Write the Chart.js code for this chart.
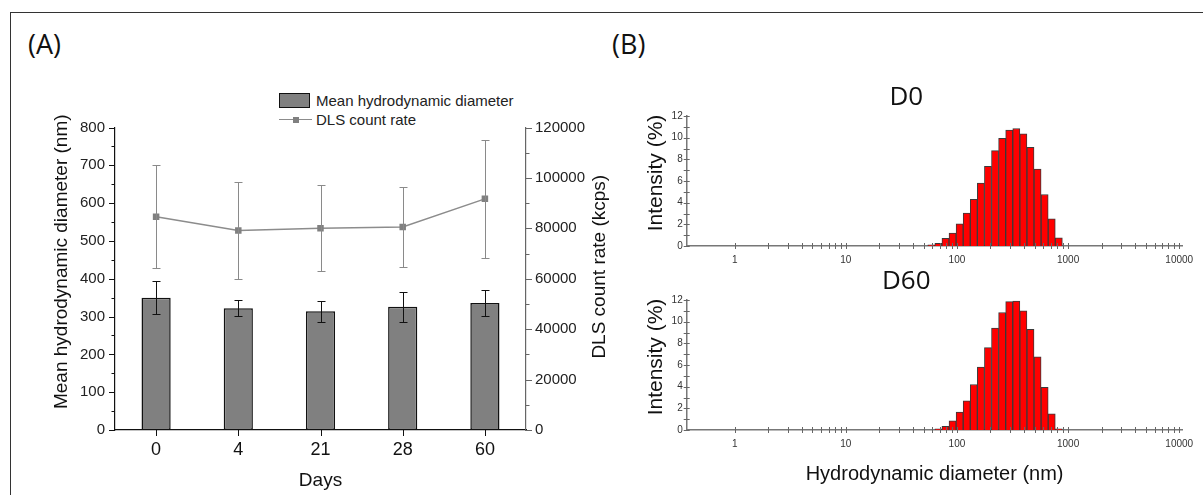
<!DOCTYPE html>
<html lang="en">
<head>
<meta charset="UTF-8">
<title>DLS stability</title>
<script src="https://cdn.jsdelivr.net/npm/chart.js"></script>
<style>
  html, body { margin: 0; padding: 0; background: #fff; }
  body { width: 1203px; height: 495px; position: relative; overflow: hidden; font-family: "Liberation Sans", Arial, sans-serif; }
  .frame { position: absolute; left: 10px; top: 12px; width: 1300px; height: 600px; border-left: 1.5px solid #333; border-top: 1.5px solid #333; }
  .panel { position: absolute; font-family: "Open Sans", sans-serif; font-size: 27px; line-height: 27px; color: #111; }
  canvas { position: absolute; }
  .legend { position: absolute; font-size: 15px; color: #222; }
  .legend .row { position: absolute; left: 0; white-space: nowrap; height: 18px; }
  .legend .sw { position: absolute; left: 0; }
  .legend .txt { position: absolute; left: 37px; top: 0; line-height: 18px; }
</style>
</head>
<body>
<div class="frame"></div>
<div class="panel" style="left:28px; top:30px;">(A)</div>
<div class="panel" style="left:612px; top:30px;">(B)</div>

<div class="legend" id="legendA" style="left:279px; top:92px;"></div>

<canvas id="chartA" width="610" height="415" style="left:20px; top:80px;"></canvas>
<canvas id="chartD0" width="572" height="190" style="left:630px; top:80px;"></canvas>
<canvas id="chartD60" width="572" height="231" style="left:630px; top:264px;"></canvas>

<script>
// ---- panel A : stability over time ----
const days = ['0', '4', '21', '28', '60'];
const meanDiameter = [350, 322, 314, 326, 336];
const meanDiameterSd = [43, 21, 28, 40, 34];
const countRate = [84600, 79100, 80000, 80500, 91700];
const countRateSd = [20500, 19300, 17100, 15800, 23400];
const seriesNames = ['Mean hydrodynamic diameter', 'DLS count rate'];
const diameterTicks = [0, 100, 200, 300, 400, 500, 600, 700, 800];
const countTicks = [0, 20000, 40000, 60000, 80000, 100000, 120000];

// ---- panel B : size distributions (intensity %) ----
const sizeBins = [58.77, 68.06, 78.82, 91.28, 105.7, 122.4, 141.8, 164.2, 190.1, 220.2,
                  255.0, 295.3, 342.0, 396.1, 458.7, 531.2, 615.1, 712.4, 825.0];
const intensityD0 = [0.1, 0.25, 0.7, 1.2, 2.05, 3.05, 4.3, 5.8, 7.35, 8.8,
                     9.95, 10.7, 10.85, 10.35, 9.1, 7.1, 4.75, 2.5, 0.75];
const intensityD60 = [0, 0.1, 0.35, 0.85, 1.65, 2.7, 4.2, 5.8, 7.6, 9.4,
                      10.85, 11.85, 11.9, 11.0, 9.3, 6.75, 3.95, 1.5, 0.1];
const sizeTickLabels = [1, 10, 100, 1000, 10000];
const intensityTicks = [0, 2, 4, 6, 8, 10, 12];

Chart.defaults.font.family = '"Liberation Sans", Arial, sans-serif';
Chart.defaults.color = '#222';

// tick marks drawn against the axis lines (outward / crossing)
function tickMarks(marks) {
    return {
        id: 'tickMarks',
        afterDraw(chart) {
            const ctx = chart.ctx;
            const area = chart.chartArea;
            marks.forEach(m => {
                const scale = chart.scales[m.axis];
                ctx.save();
                ctx.strokeStyle = m.color;
                ctx.lineWidth = 1;
                ctx.beginPath();
                m.values.forEach(v => {
                    const p = Math.round(scale.getPixelForValue(v)) + 0.5;
                    if (scale.isHorizontal()) {
                        ctx.moveTo(p, area.bottom - m.inside);
                        ctx.lineTo(p, area.bottom + m.outside);
                    } else if (scale.position === 'left') {
                        ctx.moveTo(area.left - m.outside, p);
                        ctx.lineTo(area.left + m.inside, p);
                    } else {
                        ctx.moveTo(area.right + m.outside, p);
                        ctx.lineTo(area.right - m.inside, p);
                    }
                });
                ctx.stroke();
                ctx.restore();
            });
        }
    };
}

// vertical axis titles (bottom-to-top text)
function sideTitles(items) {
    return {
        id: 'sideTitles',
        afterDraw(chart) {
            const ctx = chart.ctx;
            const area = chart.chartArea;
            items.forEach(t => {
                ctx.save();
                ctx.translate(t.x, (area.top + area.bottom) / 2 + t.dy);
                ctx.rotate(-Math.PI / 2);
                ctx.font = t.font;
                ctx.fillStyle = '#111';
                ctx.textAlign = 'center';
                ctx.textBaseline = 'middle';
                ctx.fillText(t.text, 0, 0);
                ctx.restore();
            });
        }
    };
}

// error bars from dataset.errors
const errorBars = {
    id: 'errorBars',
    afterDatasetsDraw(chart) {
        const ctx = chart.ctx;
        chart.data.datasets.forEach((ds, i) => {
            if (!ds.errors) return;
            const meta = chart.getDatasetMeta(i);
            const yScale = chart.scales[meta.yAxisID];
            ctx.save();
            ctx.strokeStyle = ds.errorColor;
            ctx.lineWidth = 1;
            meta.data.forEach((el, j) => {
                const x = Math.round(el.x) + 0.5;
                const top = Math.round(yScale.getPixelForValue(ds.data[j] + ds.errors[j])) + 0.5;
                const bot = Math.round(yScale.getPixelForValue(ds.data[j] - ds.errors[j])) + 0.5;
                ctx.beginPath();
                ctx.moveTo(x, top); ctx.lineTo(x, bot);
                ctx.moveTo(x - 4, top); ctx.lineTo(x + 4, top);
                ctx.moveTo(x - 4, bot); ctx.lineTo(x + 4, bot);
                ctx.stroke();
            });
            ctx.restore();
        });
    }
};

function range(a, b, step) {
    const out = [];
    for (let v = a; v <= b; v += step) out.push(v);
    return out;
}

// legend for panel A (HTML, built from the series names)
const legendA = document.getElementById('legendA');
legendA.innerHTML =
    '<div class="row" style="top:0"><div class="sw" style="top:1px;width:31px;height:15px;background:#808080;border:1.5px solid #111;box-sizing:border-box;"></div><div class="txt">' + seriesNames[0] + '</div></div>' +
    '<div class="row" style="top:19px"><div class="sw" style="top:8px;width:33px;height:0;border-top:1.5px solid #8c8c8c;"></div>' +
    '<div class="sw" style="top:5.5px;left:13.5px;width:6px;height:6px;background:#808080;"></div><div class="txt">' + seriesNames[1] + '</div></div>';

new Chart(document.getElementById('chartA'), {
    data: {
        labels: days,
        datasets: [{
            type: 'line',
            label: seriesNames[1],
            data: countRate,
            errors: countRateSd,
            errorColor: '#8a8a8a',
            yAxisID: 'y1',
            order: 0,
            borderColor: '#8c8c8c',
            borderWidth: 1.5,
            pointStyle: 'rect',
            pointRadius: 4.6,
            pointBackgroundColor: '#808080',
            pointBorderColor: '#808080',
            pointBorderWidth: 0,
            tension: 0
        }, {
            type: 'bar',
            label: seriesNames[0],
            data: meanDiameter,
            errors: meanDiameterSd,
            errorColor: '#111',
            yAxisID: 'y',
            order: 1,
            backgroundColor: '#808080',
            borderColor: '#111',
            borderWidth: 1.5,
            borderSkipped: false,
            categoryPercentage: 1,
            barPercentage: 0.355
        }]
    },
    options: {
        responsive: false,
        animation: false,
        layout: { padding: { top: 47.5, left: 0, right: 0, bottom: 0 } },
        plugins: { legend: { display: false }, tooltip: { enabled: false } },
        scales: {
            x: {
                type: 'category',
                offset: true,
                grid: { display: false, drawTicks: false, offset: true },
                border: { display: true, color: '#111', width: 1.2 },
                ticks: { font: { size: 18 }, color: '#111', padding: 9 },
                title: { display: true, text: 'Days', font: { size: 19 }, color: '#111', padding: { top: 0, bottom: 3 } },
                afterFit: s => { s.height = 65; }
            },
            y: {
                position: 'left',
                min: 0, max: 800,
                afterBuildTicks: s => { s.ticks = diameterTicks.map(v => ({ value: v })); },
                grid: { display: false, drawTicks: false },
                border: { display: true, color: '#111', width: 1.2 },
                ticks: { font: { size: 15 }, color: '#222', padding: 10, callback: v => String(v) },
                afterFit: s => { s.width = 95; }
            },
            y1: {
                position: 'right',
                min: 0, max: 120000,
                afterBuildTicks: s => { s.ticks = countTicks.map(v => ({ value: v })); },
                grid: { display: false, drawTicks: false },
                border: { display: true, color: '#666', width: 1.2 },
                ticks: { font: { size: 15 }, color: '#222', padding: 9, callback: v => String(v) },
                afterFit: s => { s.width = 104; }
            }
        }
    },
    plugins: [
        errorBars,
        tickMarks([
            { axis: 'y', values: range(0, 800, 100), outside: 6, inside: 0, color: '#111' },
            { axis: 'y', values: range(50, 750, 100), outside: 3.5, inside: 0, color: '#111' },
            { axis: 'y1', values: range(0, 120000, 20000), outside: 6, inside: 0, color: '#666' },
            { axis: 'y1', values: range(10000, 110000, 20000), outside: 3.5, inside: 0, color: '#666' },
            { axis: 'x', values: [0, 1, 2, 3, 4], outside: 6, inside: 0, color: '#111' }
        ]),
        sideTitles([
            { text: 'Mean hydrodynamic diameter (nm)', x: 42, dy: -17, font: '19px "Liberation Sans", Arial, sans-serif' },
            { text: 'DLS count rate (kcps)', x: 580, dy: -12, font: '19px "Liberation Sans", Arial, sans-serif' }
        ])
    ]
});

// log size axis ticks: 1..9 per decade
const logTicks = [];
for (let d = 1; d <= 1000; d *= 10) {
    for (let k = 1; k <= 9; k++) logTicks.push(k * d);
}
logTicks.push(10000);

function makeHist(id, title, values, padRight, xHeight, xTitle) {
    return new Chart(document.getElementById(id), {
        type: 'bar',
        data: {
            datasets: [{
                data: sizeBins.map((s, i) => ({ x: s, y: values[i] })),
                backgroundColor: '#ff0000',
                borderColor: '#3a3a3a',
                borderWidth: 1,
                barThickness: 'flex',
                categoryPercentage: 1,
                barPercentage: 1
            }]
        },
        options: {
            responsive: false,
            animation: false,
            layout: { padding: { top: 0, left: 0, right: padRight, bottom: 0 } },
            plugins: {
                legend: { display: false },
                tooltip: { enabled: false },
                title: {
                    display: true, text: title, color: '#111',
                    font: { family: '"Open Sans", sans-serif', size: 26, weight: 'normal' },
                    padding: { top: 2, bottom: 2.8 }
                }
            },
            scales: {
                x: {
                    type: 'logarithmic',
                    min: 0.37, max: 10700,
                    offset: false,
                    afterBuildTicks: s => { s.ticks = logTicks.map(v => ({ value: v })); },
                    grid: { display: false, drawTicks: false, offset: false },
                    border: { display: true, color: '#777', width: 1.5 },
                    ticks: {
                        autoSkip: false, maxRotation: 0, padding: 8,
                        font: { size: 10 }, color: '#333',
                        callback: v => sizeTickLabels.includes(v) ? String(v) : ''
                    },
                    title: xTitle ? { display: true, text: xTitle, font: { size: 20 }, color: '#111', padding: { top: 0, bottom: 9 } } : { display: false },
                    afterFit: s => { s.height = xHeight; }
                },
                y: {
                    min: 0, max: 12,
                    afterBuildTicks: s => { s.ticks = intensityTicks.map(v => ({ value: v })); },
                    grid: { display: false, drawTicks: false },
                    border: { display: true, color: '#777', width: 1.5 },
                    ticks: { font: { size: 10 }, color: '#333', padding: 4 },
                    afterFit: s => { s.width = 56.7; }
                }
            }
        },
        plugins: [
            tickMarks([
                { axis: 'x', values: logTicks, outside: 3, inside: 3, color: '#666' },
                { axis: 'y', values: range(0, 12, 1), outside: 3, inside: 3, color: '#666' }
            ]),
            sideTitles([
                { text: 'Intensity (%)', x: 26, dy: -8, font: '21px "Liberation Sans", Arial, sans-serif' }
            ])
        ]
    });
}

makeHist('chartD0', 'D0', intensityD0, 19.5, 24, null);
makeHist('chartD60', 'D60', intensityD60, 19.5, 65, 'Hydrodynamic diameter (nm)');
</script>
</body>
</html>
